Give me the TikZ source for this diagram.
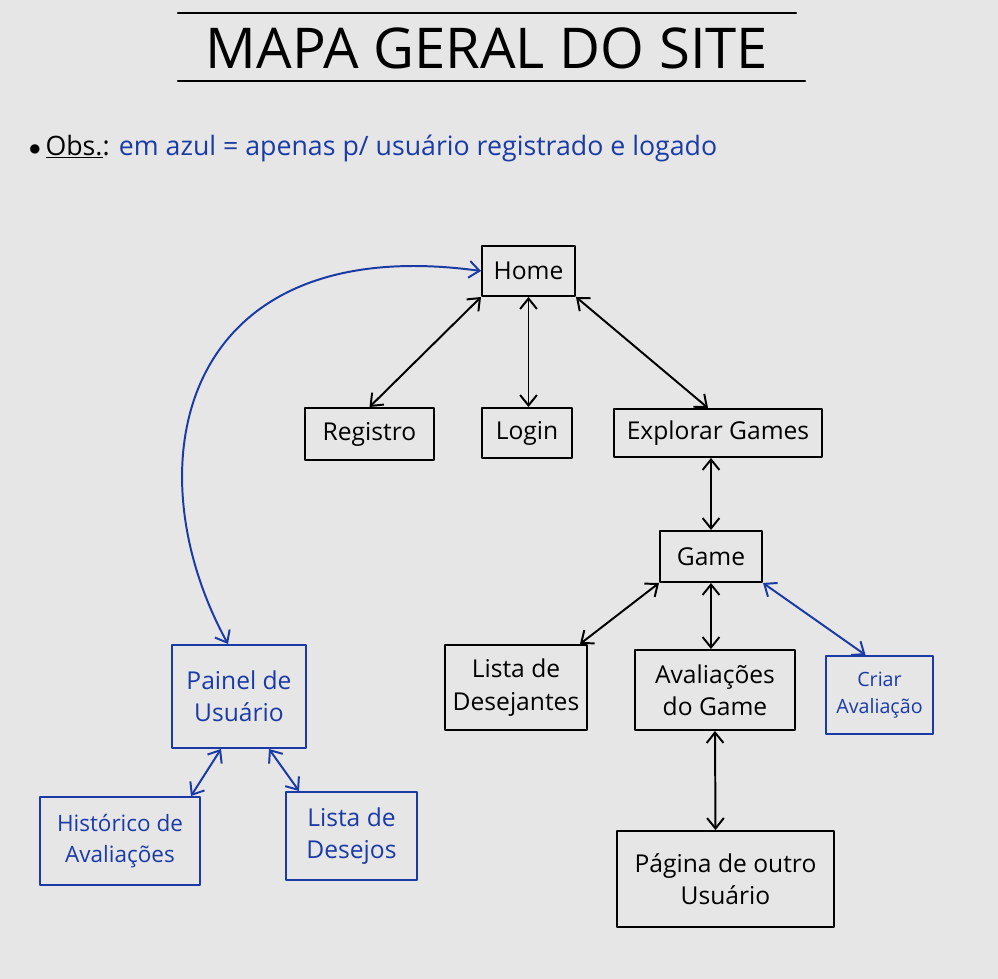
\documentclass[tikz,border=0pt]{standalone}
\usepackage{fontspec}
\setmainfont{Open Sans}
\usepackage{tikz}
\usetikzlibrary{arrows.meta}
\definecolor{pen}{HTML}{1A3AA6}
\definecolor{paper}{HTML}{E6E6E6}
\tikzset{
  every picture/.style={line join=round, line cap=round},
  box/.style={draw, line width=1.4pt, align=center, inner sep=2pt, font=\fontsize{17.5}{23}\selectfont},
  bluebox/.style={box, draw=pen, text=pen},
  link/.style={<->, line width=1.4pt, >={Straight Barb[length=2.6mm, width=4.2mm]}},
  bluelink/.style={link, draw=pen},
}

\begin{document}
\begin{tikzpicture}[x=0.25mm,y=-0.25mm]
\fill[paper] (0,0) rectangle (998,979);
\useasboundingbox (0,0) rectangle (998,979);
\draw[line width=1.6pt](178,13)--(796,13);
\draw[line width=1.6pt](178,81)--(805,81);
\node (title) at (487,48) {\fontsize{40}{46}\selectfont MAPA GERAL DO SITE};
\node[anchor=west] (obs) at (24,148) {\fontsize{19}{23}\selectfont $\bullet$\,\underline{Obs.}: \textcolor{pen}{em azul = apenas p/ usuário registrado e logado}};

\node[box, minimum width=23.25mm, minimum height=12.5mm] (home) at (528.5,271) {Home};
\node[box, minimum width=32.25mm, minimum height=13mm] (registro) at (369.5,434) {Registro};
\node[box, minimum width=22.5mm, minimum height=12.5mm] (login) at (527,433) {Login};
\node[box, minimum width=52mm, minimum height=12mm] (explorar) at (718,433) {Explorar Games};
\node[box, minimum width=25.5mm, minimum height=12.75mm] (game) at (711,556.5) {Game};
\node[box, minimum width=35.5mm, minimum height=21.25mm] (desejantes) at (516,687.5) {Lista de\\Desejantes};
\node[box, minimum width=40mm, minimum height=20mm] (avalgame) at (715,690) {Avaliações\\do Game};
\node[bluebox, minimum width=26.75mm, minimum height=19.5mm, font=\fontsize{14}{19}\selectfont] (criar) at (879.5,695) {Criar\\Avaliação};
\node[box, minimum width=54.25mm, minimum height=24mm] (pagina) at (725.5,879) {Página de outro\\Usuário};
\node[bluebox, minimum width=33.5mm, minimum height=25.75mm] (painel) at (239,696.5) {Painel de\\Usuário};
\node[bluebox, minimum width=40mm, minimum height=22mm, font=\fontsize{16}{22}\selectfont] (historico) at (120,841) {Histórico de\\Avaliações};
\node[bluebox, minimum width=32.75mm, minimum height=22mm] (desejos) at (351.5,836) {Lista de\\Desejos};

\draw[link](home.south west)--(registro.north);
\draw[link](home.south)--(home.south |- login.north);
\draw[link](home.south east)--([xshift=-2.5mm]explorar.north);
\draw[link](explorar.south -| game.north)--(game.north);
\draw[link](game.south west)--([xshift=-2mm]desejantes.north east);
\draw[link](game.south)--(game.south |- avalgame.north);
\draw[bluelink](game.south east)--([xshift=-3.5mm]criar.north);
\draw[link](avalgame.south)--([xshift=-2.5mm]pagina.north);
\draw[bluelink](home.west) .. controls (180,230) and (130,465) .. ([xshift=-2.75mm]painel.north);
\draw[bluelink]([xshift=-4.5mm]painel.south)--([xshift=-2.5mm]historico.north east);
\draw[bluelink]([xshift=7.5mm]painel.south)--([xshift=3.5mm]desejos.north west);
\end{tikzpicture}
\end{document}
